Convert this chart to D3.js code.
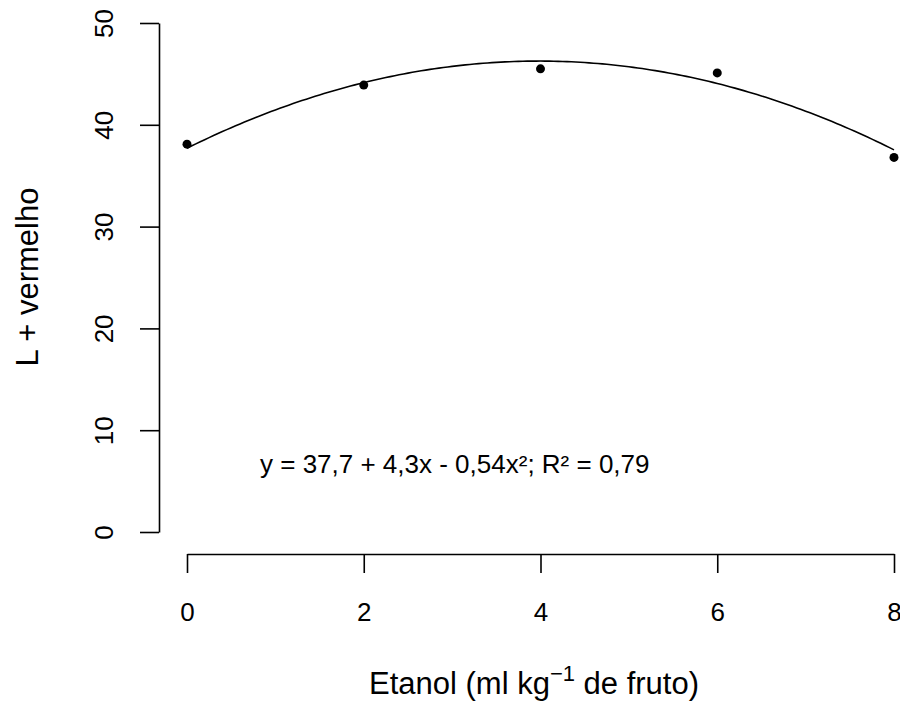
<!DOCTYPE html>
<html>
<head>
<meta charset="utf-8">
<script src="https://cdn.jsdelivr.net/npm/d3@7"></script>
<style>
  body { margin: 0; background: #fff; }
  text { font-family: "Liberation Sans", Arial, sans-serif; fill: #000; }
</style>
</head>
<body>
<svg id="mainsvg" width="900" height="704"></svg>
<script>
// data
const doses = [0, 2, 4, 6, 8];
const lRed = [38.1, 43.9, 45.5, 45.1, 36.8];
// fitted model printed on the chart: y = 37.7 + 4.3x - 0.54x^2
const coef = [37.7, 4.3, -0.54];
const xTicks = [0, 2, 4, 6, 8];
const yTicks = [0, 10, 20, 30, 40, 50];
const eqLabel = 'y = 37,7 + 4,3x - 0,54x²; R² = 0,79';

const svg = d3.select('#mainsvg');

const xScale = d3.scaleLinear().domain([0, 8]).range([187, 894]);
const yScale = d3.scaleLinear().domain([0, 50]).range([532, 23]);

// y axis
const yAxis = d3.axisLeft(yScale).tickValues(yTicks).tickSize(19).tickSizeOuter(0);
const yg = svg.append('g').attr('transform', 'translate(159,0)').call(yAxis);
yg.selectAll('text')
  .attr('x', 0).attr('dy', 0)
  .attr('transform', 'translate(-46,0) rotate(-90)')
  .attr('text-anchor', 'middle')
  .attr('font-size', '26px');

// x axis
const xAxis = d3.axisBottom(xScale).tickValues(xTicks).tickSize(19).tickSizeOuter(0);
const xg = svg.append('g').attr('transform', 'translate(0,554)').call(xAxis);
xg.selectAll('text')
  .attr('y', 67).attr('dy', 0)
  .attr('font-size', '26px');

svg.selectAll('.domain, .tick line')
  .attr('stroke', '#000')
  .attr('stroke-width', 1.6);
svg.selectAll('.tick text').style('fill', '#000').attr('font-family', '"Liberation Sans", Arial, sans-serif');

// fitted curve
const curveX = d3.range(0, 8.001, 0.05);
const fit = x => coef[0] + coef[1] * x + coef[2] * x * x;
const line = d3.line().x(d => xScale(d)).y(d => yScale(fit(d)));
svg.append('path')
  .attr('d', line(curveX))
  .attr('fill', 'none')
  .attr('stroke', '#000')
  .attr('stroke-width', 1.6);

// observed points
svg.selectAll('.pt').data(doses).join('circle')
  .attr('class', 'pt')
  .attr('cx', d => xScale(d))
  .attr('cy', (d, i) => yScale(lRed[i]))
  .attr('r', 4.5)
  .attr('fill', '#000');

// equation
svg.append('text')
  .attr('x', 260).attr('y', 473)
  .attr('font-size', '26px')
  .text(eqLabel);

// axis titles
const xt = svg.append('text')
  .attr('x', 534).attr('y', 694)
  .attr('text-anchor', 'middle')
  .attr('font-size', '31px');
xt.append('tspan').text('Etanol (ml kg');
xt.append('tspan').attr('dy', -13).attr('font-size', '22px').text('−1');
xt.append('tspan').attr('dy', 13).text(' de fruto)');

svg.append('text')
  .attr('transform', 'translate(38,277) rotate(-90)')
  .attr('text-anchor', 'middle')
  .attr('font-size', '31px')
  .text('L + vermelho');
</script>
</body>
</html>
